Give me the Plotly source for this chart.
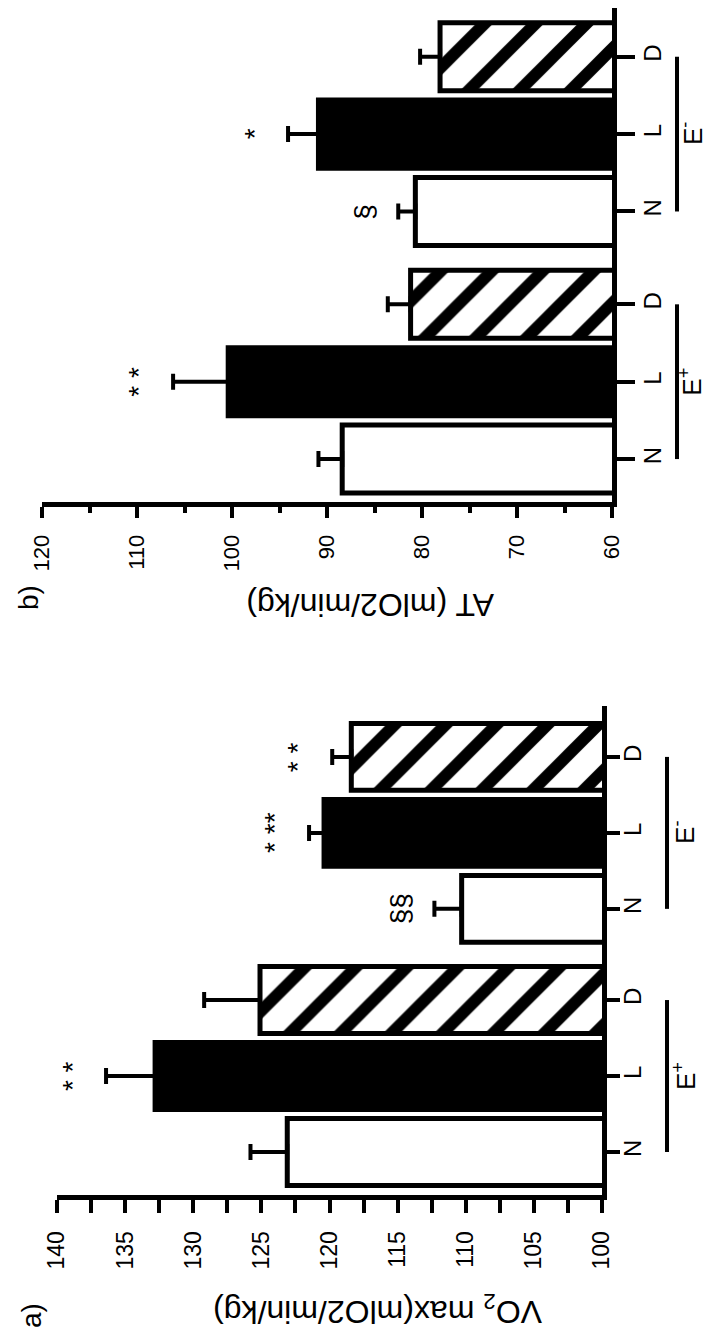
import plotly.graph_objects as go

# ---------------- data ----------------
categories = ["N", "L", "D", "N", "L", "D"]
groups = ["E<sup>+</sup>", "E<sup>-</sup>"]
fills = ["white", "black", "hatch", "white", "black", "hatch"]

vo2_mean = [123.1, 132.8, 125.1, 110.3, 120.4, 118.4]
vo2_err = [2.7, 3.6, 4.1, 2.0, 1.1, 1.4]
vo2_sig = ["", "* *", "", "§§", "* **", "* *"]

at_mean = [88.4, 100.4, 81.2, 80.7, 90.9, 78.1]
at_err = [2.5, 5.8, 2.4, 1.8, 3.2, 2.1]
at_sig = ["", "* *", "", "§", "*", ""]

vo2_title = "VO<sub>2</sub> max(mlO2/min/kg)"
at_title = "AT (mlO2/min/kg)"

# ---------------- layout helpers ----------------
PAGE_W, PAGE_H = 711, 1336
PAGE_MARGIN = 8          # default body margin of the html page
W, H = PAGE_W - PAGE_MARGIN, PAGE_H - PAGE_MARGIN
GROUP_GAP = 0.2
pos = [i + (GROUP_GAP if i >= 3 else 0) for i in range(len(categories))]
FONT = "Liberation Sans, Arial, sans-serif"


def px(x):
    """page pixel x -> paper fraction"""
    return min(1.0, max(0.0, (x - PAGE_MARGIN) / W))


def py(y):
    """page pixel y (from top) -> paper fraction"""
    return min(1.0, max(0.0, (H - (y - PAGE_MARGIN)) / H))


STYLES = {
    "white": dict(color="white", pattern=None),
    "black": dict(color="black", pattern=None),
    "hatch": dict(color="white",
                  pattern=dict(shape="/", fgcolor="black", bgcolor="white",
                               size=36, solidity=0.33, fillmode="replace")),
}

fig = go.Figure()


def add_panel(mean, err, xa, ya):
    for style, st in STYLES.items():
        idx = [i for i, f in enumerate(fills) if f == style]
        marker = dict(color=st["color"], line=dict(color="black", width=5))
        if st["pattern"]:
            marker["pattern"] = st["pattern"]
        fig.add_trace(go.Bar(
            x=[mean[i] for i in idx], y=[pos[i] for i in idx],
            orientation="h", width=0.88, marker=marker,
            error_x=dict(type="data", array=[err[i] for i in idx],
                         arrayminus=[0] * len(idx), symmetric=False,
                         color="black", thickness=4, width=8),
            xaxis=xa, yaxis=ya, showlegend=False,
        ))


add_panel(vo2_mean, vo2_err, "x", "y")
add_panel(at_mean, at_err, "x2", "y2")

tick_font = dict(family=FONT, size=23, color="black")
cat_font = dict(family=FONT, size=24, color="black")

fig.update_layout(
    width=W, height=H,
    margin=dict(l=0, r=0, t=0, b=0),
    paper_bgcolor="white", plot_bgcolor="white",
    barmode="overlay",
    xaxis=dict(domain=[px(57), px(602)], range=[140, 100], anchor="y",
               showline=True, linewidth=5, linecolor="black",
               ticks="outside", ticklen=13, tickwidth=4, tickcolor="black",
               tick0=100, dtick=5, tickangle=-90, tickfont=tick_font,
               ticklabelstandoff=9,
               minor=dict(dtick=2.5, ticks="outside", ticklen=13, tickwidth=4,
                          tickcolor="black"),
               showgrid=False, zeroline=False, automargin=False),
    yaxis=dict(domain=[py(1195), py(706)], range=[-0.566, 5.87], anchor="x",
               side="right", showline=True, linewidth=5, linecolor="black",
               ticks="outside", ticklen=13, tickwidth=4, tickcolor="black",
               tickvals=pos, ticktext=categories, tickangle=-90,
               tickfont=cat_font, ticklabelstandoff=-8,
               showgrid=False, zeroline=False, automargin=False),
    xaxis2=dict(domain=[px(42), px(612)], range=[120, 60], anchor="y2",
                showline=True, linewidth=5, linecolor="black",
                ticks="outside", ticklen=11, tickwidth=4, tickcolor="black",
                tick0=60, dtick=10, tickangle=-90,
                tickfont=dict(family=FONT, size=22, color="black"),
                ticklabelstandoff=8,
                minor=dict(dtick=5, ticks="outside", ticklen=6, tickwidth=4,
                           tickcolor="black"),
                showgrid=False, zeroline=False, automargin=False),
    yaxis2=dict(domain=[py(502), py(8)], range=[-0.555, 5.83], anchor="x2",
                side="right", showline=True, linewidth=5, linecolor="black",
                ticks="outside", ticklen=18, tickwidth=4, tickcolor="black",
                tickvals=pos, ticktext=categories, tickangle=-90,
                tickfont=cat_font, ticklabelstandoff=-3,
                showgrid=False, zeroline=False, automargin=False),
)

annotations = []
shapes = []


def ann(**kw):
    base = dict(showarrow=False, xanchor="center", yanchor="middle")
    base.update(kw)
    annotations.append(base)


# significance marks
for mean, err, sig, xr, yr in [(vo2_mean, vo2_err, vo2_sig, "x", "y"),
                               (at_mean, at_err, at_sig, "x2", "y2")]:
    for m, e, s, p in zip(mean, err, sig, pos):
        if s:
            ann(x=m + e, y=p, xref=xr, yref=yr, text=s, textangle=-90,
                xshift=-34, font=dict(family=FONT, size=28, color="black"))

# group lines and labels (E+ / E-)
for yr, xline, xlab in [("y", 667, 684), ("y2", 677, 691)]:
    for g, (a, b) in zip(groups, [(pos[0], pos[2]), (pos[3], pos[5])]):
        shapes.append(dict(type="line", xref="paper", yref=yr,
                           x0=px(xline), x1=px(xline), y0=a, y1=b,
                           line=dict(color="black", width=4)))
        ann(x=px(xlab), y=(a + b) / 2, xref="paper", yref=yr, text=g,
            textangle=-90, font=dict(family=FONT, size=26, color="black"))

# axis titles (upside down)
ann(x=px(378), y=py(1310), xref="paper", yref="paper", text=vo2_title,
    textangle=180, font=dict(family=FONT, size=32, color="black"))
ann(x=px(370), y=py(605), xref="paper", yref="paper", text=at_title,
    textangle=180, font=dict(family=FONT, size=32, color="black"))

# panel labels
ann(x=px(31), y=py(1315), xref="paper", yref="paper", text="a)",
    textangle=-90, font=dict(family=FONT, size=28, color="black"))
ann(x=px(28), y=py(598), xref="paper", yref="paper", text="b)",
    textangle=-90, font=dict(family=FONT, size=28, color="black"))

fig.update_layout(annotations=annotations, shapes=shapes)

fig.write_html("out.html")
